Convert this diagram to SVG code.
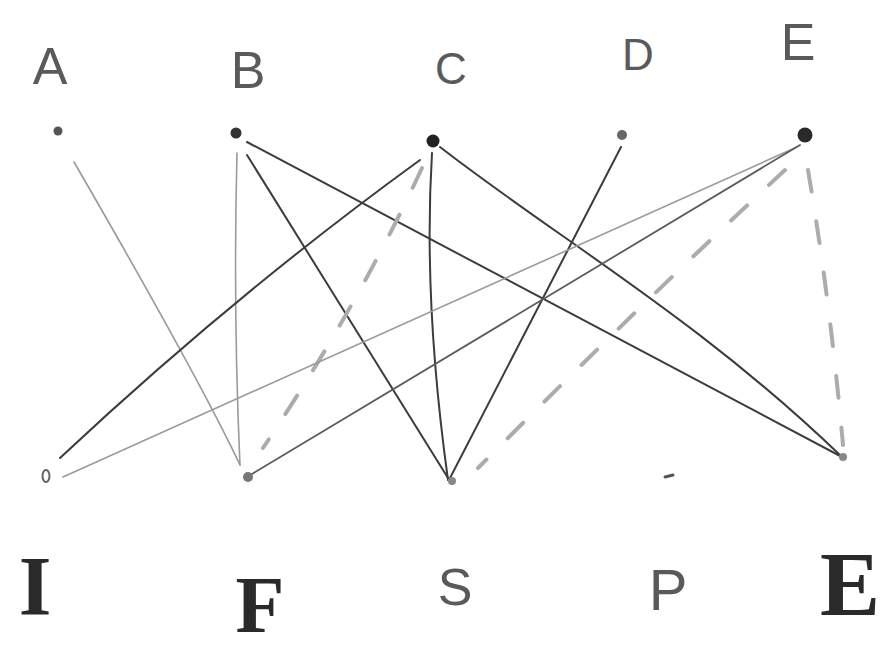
<svg xmlns="http://www.w3.org/2000/svg" width="893" height="648" viewBox="0 0 893 648">
<style>
.lbl{font-family:"Liberation Sans",Arial,sans-serif;fill:#5a5a5a;text-anchor:middle}
.lblb{font-family:"Liberation Serif","Times New Roman",serif;font-weight:bold;fill:#2a2a2a;text-anchor:middle}
.dark{fill:none;stroke:#3c3c3c;stroke-width:2;stroke-linecap:round}
.mid{fill:none;stroke:#5c5c5c;stroke-width:1.8;stroke-linecap:round}
.light{fill:none;stroke:#9a9a9a;stroke-width:1.6;stroke-linecap:round}
.dash{fill:none;stroke:#acacac;stroke-width:4;stroke-linecap:round;stroke-dasharray:22 30}
</style>
<rect width="893" height="648" fill="#ffffff"/>
<g id="connectors">
<path class="light" d="M74,162 Q199,378 240,465"/>
<path class="light" d="M237,153 Q233,310 240,465"/>
<path class="dark" d="M247,155 L448,478"/>
<path class="dark" d="M247,142 L842,457"/>
<path class="dark" d="M420,160 Q234,295 60,458"/>
<path class="dash" d="M422,168 Q357,308 263,448"/>
<path class="dark" d="M432,153 Q423,300 448,480"/>
<path class="dark" d="M440,147 C560,240 700,320 842,457"/>
<path class="dark" d="M621,147 L449,480"/>
<path class="light" d="M797,147 L63,477"/>
<path class="mid" d="M800,145 L252,474"/>
<path class="dash" d="M785,170 Q645,300 478,468"/>
<path class="dash" d="M808,170 Q830,300 843,445"/>
</g>
<g id="node-A">
<text class="lbl" x="50" y="84" font-size="52">A</text>
<circle cx="58" cy="131" r="4.5" fill="#555"/>
</g>
<g id="node-B">
<text class="lbl" x="248" y="88" font-size="52">B</text>
<circle cx="236" cy="133" r="5.5" fill="#333"/>
</g>
<g id="node-C">
<text class="lbl" x="451" y="84" font-size="44">C</text>
<circle cx="433" cy="141" r="6.5" fill="#222"/>
</g>
<g id="node-D">
<text class="lbl" x="638" y="70" font-size="44">D</text>
<circle cx="622" cy="135" r="5" fill="#666"/>
</g>
<g id="node-E">
<text class="lbl" x="798" y="60" font-size="52">E</text>
<circle cx="805" cy="135" r="7.5" fill="#2a2a2a"/>
</g>
<g id="node-I">
<text class="lblb" x="35" y="615" font-size="84">I</text>
<ellipse cx="46" cy="476" rx="3.5" ry="6" fill="none" stroke="#666" stroke-width="2"/>
</g>
<g id="node-F">
<text class="lblb" x="260" y="632" font-size="80">F</text>
<circle cx="248" cy="477" r="5" fill="#777"/>
</g>
<g id="node-S">
<text class="lbl" x="455" y="605" font-size="52" fill="#3a3a3a">S</text>
<circle cx="452" cy="481" r="4" fill="#888"/>
</g>
<g id="node-P">
<text class="lbl" x="668" y="610" font-size="58" fill="#3a3a3a">P</text>
<path d="M665,477 L673,475" stroke="#555" stroke-width="3" stroke-linecap="round"/>
</g>
<g id="node-E2">
<text class="lblb" x="850" y="615" font-size="90">E</text>
<circle cx="843" cy="457" r="4" fill="#888"/>
</g>
</svg>
